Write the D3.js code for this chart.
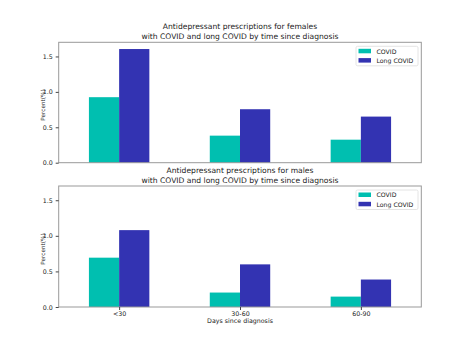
<!DOCTYPE html>
<html><head><meta charset="utf-8">
<script src="https://cdn.jsdelivr.net/npm/d3@7"></script>
<style>body{margin:0;background:#fff}svg{display:block}text{font-family:"DejaVu Sans",sans-serif;fill:#222}</style>
</head><body>
<svg id="c" width="468" height="351"></svg>
<script>
const categories = ["<30", "30-60", "60-90"];
const seriesNames = ["COVID", "Long COVID"];
const femaleCovid = [0.925, 0.382, 0.325];
const femaleLong = [1.605, 0.755, 0.651];
const maleCovid = [0.693, 0.203, 0.146];
const maleLong = [1.08, 0.599, 0.386];
const yTicks = [0.0, 0.5, 1.0, 1.5];
const colors = ["#00bfb0", "#3333b2"];
const titles = [
  ["Antidepressant prescriptions for females", "with COVID and long COVID by time since diagnosis"],
  ["Antidepressant prescriptions for males", "with COVID and long COVID by time since diagnosis"]
];

const svg = d3.select("#c");
const panels = [
  {top: 42.3, bottom: 162.7, data: [femaleCovid, femaleLong], title: titles[0], xlabels: false},
  {top: 186, bottom: 307, data: [maleCovid, maleLong], title: titles[1], xlabels: true}
];
const left = 58.7, right = 421.3;
const x = d3.scaleLinear().domain([-0.5, 2.5]).range([left, right]);
const bw = 0.25;

panels.forEach(p => {
  const y = d3.scaleLinear().domain([0, 1.7]).range([p.bottom, p.top]);
  const g = svg.append("g");
  p.data.forEach((vals, si) => {
    g.selectAll(null).data(vals).enter().append("rect")
      .attr("x", (d, i) => x(i + (si === 0 ? -bw : 0)))
      .attr("width", x(bw) - x(0))
      .attr("y", d => y(d))
      .attr("height", d => y(0) - y(d))
      .attr("fill", colors[si]);
  });
  g.append("rect").attr("x", left).attr("y", p.top).attr("width", right - left).attr("height", p.bottom - p.top)
    .attr("fill", "none").attr("stroke", "#999").attr("stroke-width", 1);
  const ya = d3.axisLeft(y).tickValues(yTicks).tickFormat(d3.format(".1f")).tickSize(3).tickPadding(3);
  const yg = g.append("g").attr("transform", `translate(${left},0)`).call(ya);
  yg.select(".domain").remove();
  yg.selectAll("line").attr("stroke", "#444");
  yg.selectAll("text").style("font-size", "6.3px").style("font-family", "DejaVu Sans").attr("fill", "#333");
  const xa = d3.axisBottom(x).tickValues([0, 1, 2]).tickFormat(i => p.xlabels ? categories[i] : "").tickSize(p.xlabels ? 3 : 0).tickPadding(2);
  const xg = g.append("g").attr("transform", `translate(0,${p.bottom})`).call(xa);
  xg.select(".domain").remove();
  xg.selectAll("line").attr("stroke", "#444");
  xg.selectAll("text").style("font-size", "6.3px").style("font-family", "DejaVu Sans").attr("fill", "#333");
  g.append("text").attr("transform", `translate(43,${(p.top + p.bottom) / 2 + 2.5}) rotate(-90)`)
    .attr("text-anchor", "middle").attr("dominant-baseline", "central").style("font-size", "5.7px").text("Percent(%)");
  g.append("text").attr("x", 240).attr("y", p.top - 15.5).attr("text-anchor", "middle").attr("dominant-baseline", "central")
    .style("font-size", "7.6px").text(p.title[0]);
  g.append("text").attr("x", 240).attr("y", p.top - 5.5).attr("text-anchor", "middle").attr("dominant-baseline", "central")
    .style("font-size", "7.6px").text(p.title[1]);
  const lg = g.append("g").attr("transform", `translate(356,${p.top + 4})`);
  lg.append("rect").attr("width", 62).attr("height", 19.5).attr("fill", "#fff").attr("stroke", "#ddd").attr("stroke-width", 0.8).attr("rx", 1.5);
  seriesNames.forEach((n, i) => {
    lg.append("rect").attr("x", 2.5).attr("y", 2.5 + i * 9.3).attr("width", 12.5).attr("height", 4.5).attr("fill", colors[i]);
    lg.append("text").attr("x", 20.5).attr("y", 4.8 + i * 9.3).attr("dominant-baseline", "central").style("font-size", "6.2px").text(n);
  });
  if (p.xlabels) {
    g.append("text").attr("x", 240).attr("y", 320.3).attr("text-anchor", "middle").attr("dominant-baseline", "central")
      .style("font-size", "6.3px").text("Days since diagnosis");
  }
});
</script>
</body></html>
